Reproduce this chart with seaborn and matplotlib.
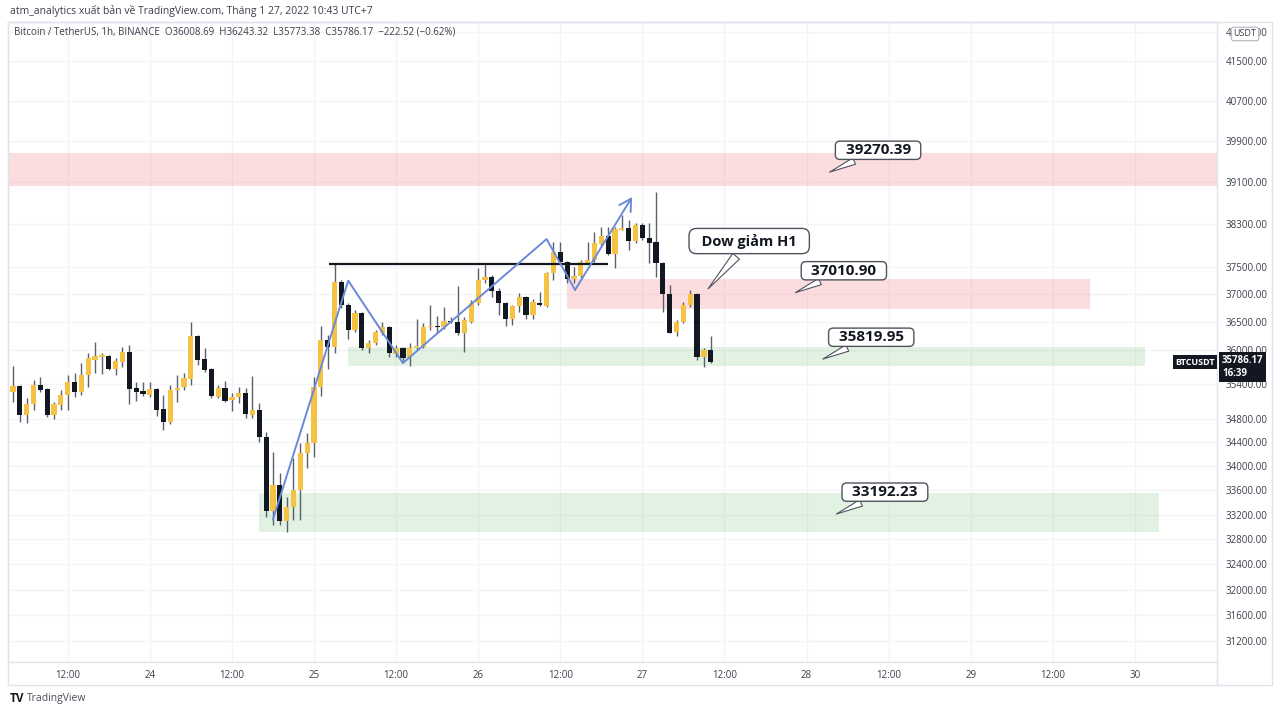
import matplotlib
matplotlib.use("Agg")
import matplotlib.pyplot as plt
import matplotlib.dates as mdates
import matplotlib.transforms as mtransforms
from matplotlib.patches import Rectangle
from matplotlib.lines import Line2D
from matplotlib.ticker import FixedLocator, NullLocator, NullFormatter, FuncFormatter
import numpy as np
import pandas as pd
import seaborn as sns

# BTC/USDT 1h candles (Binance), 23 Jan 04:00 -> 27 Jan 10:00, UTC+7
opens = [35264, 35369, 34868, 35057, 35386, 35316, 34868, 35040, 35213, 35438,
         35264, 35561, 35823, 35876, 35894, 35666, 35788, 35965, 35334, 35282,
         35213, 35316, 34970, 34748, 35299, 35351, 35491, 36248, 35841, 35666,
         35178, 35334, 35126, 35178, 35247, 34868, 34953, 34492, 33260, 33688,
         33097, 33325, 33605, 34221, 34390, 35351, 36177, 36053, 37225, 36806,
         36357, 36662, 36035, 36124, 36304, 36410, 35929, 36035, 35858, 36035,
         36053, 36410, 36429, 36410, 36518, 36500, 36304, 36500, 36843, 37261,
         37316, 37061, 36843, 36554, 36788, 36952, 36626, 36843, 36788, 37390,
         37778, 37593, 37279, 37335, 37575, 37630, 37927, 38076, 37741, 38188,
         38226, 37982, 38283, 38038, 37964, 37575, 37006, 36322, 36500, 36806,
         37006, 35876, 36008.69]
highs = [35718, 35380, 35161, 35473, 35525, 35334, 35091, 35299, 35561, 35596,
         35771, 35947, 36142, 35947, 35912, 35858, 36053, 36089, 35438, 35438,
         35438, 35334, 35213, 35386, 35561, 35596, 36500, 36267, 36035, 35683,
         35386, 35456, 35247, 35351, 35334, 35543, 35074, 34577, 34238, 33887,
         33489, 34137, 34390, 34560, 35525, 36429, 36267, 37575, 37261, 36843,
         36716, 36680, 36177, 36357, 36500, 36429, 36089, 36053, 36124, 36554,
         36482, 36806, 36608, 36770, 36590, 37152, 36590, 36897, 37483, 37556,
         37353, 37115, 36861, 36806, 37024, 36970, 36915, 37043, 37409, 37964,
         37964, 37612, 37501, 37630, 37964, 38151, 38245, 38245, 38245, 38472,
         38377, 38320, 38320, 38320, 38910, 37593, 37170, 36536, 36861, 37079,
         37024, 36035, 36243.32]
lows = [35091, 34748, 34731, 34953, 35264, 34833, 34799, 34953, 34953, 35178,
        35213, 35351, 35596, 35578, 35648, 35561, 35701, 35057, 35109, 35196,
        35178, 34850, 34611, 34714, 35091, 35299, 35386, 35736, 35613, 35161,
        35161, 35091, 34936, 35074, 34816, 34816, 34407, 33162, 33031, 33031,
        32917, 33113, 33113, 33970, 34154, 35196, 35666, 35947, 36752, 36195,
        36322, 36000, 35947, 36089, 36267, 35876, 35876, 35806, 35718, 36000,
        36035, 36357, 36304, 36375, 36482, 36267, 35965, 36482, 36806, 37206,
        36952, 36626, 36429, 36446, 36680, 36554, 36554, 36788, 36770, 37261,
        37575, 37206, 37206, 37298, 37575, 37593, 37908, 37723, 37483, 38188,
        37815, 37945, 38001, 37575, 37316, 36680, 36304, 36248, 36482, 36770,
        35823, 35701, 35773.38]
closes = [35369, 34868, 35057, 35386, 35299, 34868, 35057, 35213, 35438, 35264,
          35561, 35858, 35894, 35912, 35666, 35806, 35965, 35316, 35264, 35230,
          35316, 34953, 34748, 35299, 35334, 35508, 36248, 35823, 35648, 35196,
          35334, 35109, 35178, 35247, 34885, 34953, 34492, 33260, 33688, 33097,
          33325, 33605, 34221, 34390, 35351, 36177, 36053, 37225, 36806, 36357,
          36662, 36035, 36124, 36322, 36410, 35947, 36035, 35858, 36035, 36071,
          36410, 36429, 36410, 36518, 36500, 36304, 36536, 36843, 37261, 37316,
          37061, 36843, 36554, 36788, 36952, 36626, 36861, 36806, 37390, 37778,
          37593, 37279, 37335, 37593, 37630, 37945, 38076, 37741, 38207, 38226,
          37982, 38283, 38038, 37945, 37575, 37006, 36304, 36500, 36806, 37006,
          35876, 36008.69, 35786.17]
first_candle = "2022-01-23 04:00"

# price zones drawn on the chart
zone_starts = ["2022-01-22 00:00", "2022-01-26 13:00", "2022-01-25 05:00", "2022-01-24 16:00"]
zone_ends = ["2022-02-01 00:00", "2022-01-29 17:30", "2022-01-30 01:30", "2022-01-30 03:30"]
zone_lows = [39027, 36740, 35710, 32925]
zone_highs = [39664, 37285, 36050, 33560]
zone_kinds = ["supply", "supply", "demand", "demand"]

# price callouts
level_values = [39270.39, 37010.90, 35819.95, 33192.23]
level_times = ["2022-01-28 03:00", "2022-01-27 22:00", "2022-01-28 02:00", "2022-01-28 04:00"]
note_text = "Dow giảm H1"
note_time = "2022-01-27 09:20"
note_price = 37060

# swing path (blue) and resistance line (black)
wave_times = ["2022-01-24 18:00", "2022-01-25 05:00", "2022-01-25 13:00",
              "2022-01-26 10:00", "2022-01-26 14:10", "2022-01-26 22:30"]
wave_prices = [33120, 37250, 35770, 38020, 37080, 38815]
res_start, res_end, res_level = "2022-01-25 02:10", "2022-01-26 19:00", 37560

price_ticks = [42100, 41500, 40700, 39900, 39100, 38300, 37500, 37000, 36500, 36000,
               35400, 34800, 34400, 34000, 33600, 33200, 32800, 32400, 32000, 31600, 31200]

YELLOW = "#f5c243"
DARK = "#131722"
WICK = "#5d606b"
BLUE = "#6a8ad8"
TEXT = "#131722"
AXIS_TXT = "#3b3f4a"
BORDER = "#e0e3eb"
BOX_EDGE = "#50535e"

sns.set_theme(style="white")
plt.rcParams["font.family"] = ["Open Sans", "DejaVu Sans"]

W, H = 1280, 713
fig = plt.figure(figsize=(12.8, 7.13), dpi=100)
ax = fig.add_axes([8 / W, 1 - 662 / H, (1217 - 8) / W, (662 - 22) / H])

o = np.array(opens, dtype=float)
h = np.array(highs, dtype=float)
l = np.array(lows, dtype=float)
c = np.array(closes, dtype=float)
times = pd.date_range(first_candle, periods=len(c), freq="h")
x = mdates.date2num(times)
hour = 1 / 24

ax.set_yscale("log")

# zones
for s, e, lo, hi, kind in zip(zone_starts, zone_ends, zone_lows, zone_highs, zone_kinds):
    col = "#f23645" if kind == "supply" else "#4caf50"
    al = 0.17 if kind == "supply" else 0.16
    xs = mdates.date2num(pd.to_datetime([s, e]))
    ax.fill_between(xs, [lo, lo], [hi, hi], color=col, alpha=al, lw=0, zorder=1)

# candles
up = c >= o
ax.vlines(x, l, h, color=WICK, lw=1, zorder=3)
body_low = np.minimum(o, c)
body_h = np.maximum(np.abs(c - o), 12)
ax.bar(x, body_h, bottom=body_low, width=0.76 * hour,
       color=np.where(up, YELLOW, DARK), linewidth=0, zorder=4)

# resistance line
ax.hlines(res_level, mdates.date2num(pd.Timestamp(res_start)), mdates.date2num(pd.Timestamp(res_end)),
          color=DARK, lw=1.6, zorder=5)

# swing path
wave = pd.DataFrame({"time": mdates.date2num(pd.to_datetime(wave_times)), "price": wave_prices})
sns.lineplot(data=wave.iloc[:-1], x="time", y="price", sort=False, color=BLUE, lw=1.4, ax=ax, zorder=6)
ax.annotate("", xy=(wave.time.iloc[-1], wave.price.iloc[-1]),
            xytext=(wave.time.iloc[-2], wave.price.iloc[-2]),
            arrowprops=dict(arrowstyle="->,head_length=0.7,head_width=0.4", color=BLUE, lw=1.4,
                            shrinkA=0, shrinkB=0, mutation_scale=12), zorder=6)

# callouts
box = dict(boxstyle="round,pad=0.14,rounding_size=0.3", fc="white", ec=BOX_EDGE, lw=1)
tail = dict(arrowstyle="wedge,tail_width=0.45", fc="white", ec=BOX_EDGE, lw=0.8)
for t, v in zip(level_times, level_values):
    ax.annotate(f"  {v:.2f}  ", xy=(mdates.date2num(pd.Timestamp(t)), v),
                xytext=(51, 23), textcoords="offset pixels", ha="center", va="center",
                fontsize=11, fontweight="bold", color=TEXT, bbox=box, arrowprops=tail, zorder=8)
ax.annotate(f"  {note_text}  ", xy=(mdates.date2num(pd.Timestamp(note_time)), note_price),
            xytext=(43, 50), textcoords="offset pixels", ha="center", va="center",
            fontsize=10.5, fontweight="bold", color=TEXT,
            bbox=dict(boxstyle="round,pad=0.35,rounding_size=0.5", fc="white", ec=BOX_EDGE, lw=1),
            arrowprops=dict(arrowstyle="wedge,tail_width=0.6", fc="white", ec=BOX_EDGE, lw=0.8),
            zorder=8)

# axes limits and ticks
ax.set_xlim(x[0] - 0.73 * hour, x[0] + 176 * hour)
ax.set_ylim(30879, 42304)
ax.set_xlabel("")
ax.set_ylabel("")
ax.yaxis.set_major_locator(FixedLocator(price_ticks))
ax.yaxis.set_minor_locator(NullLocator())
ax.yaxis.set_minor_formatter(NullFormatter())
ax.yaxis.set_major_formatter(FuncFormatter(lambda v, p: f"{v:.2f}"))
ax.yaxis.tick_right()
ax.tick_params(axis="y", length=0, pad=6, labelsize=7, labelcolor=AXIS_TXT)

xt = pd.date_range("2022-01-23 12:00", "2022-01-30 00:00", freq="12h")
ax.set_xticks(mdates.date2num(xt))
ax.set_xticklabels([str(t.day) if t.hour == 0 else "12:00" for t in xt])
ax.tick_params(axis="x", length=0, pad=6, labelsize=7, labelcolor=AXIS_TXT)
ax.grid(True, which="major", color="#f3f4f8", lw=1)
for sp in ax.spines.values():
    sp.set_color(BORDER)
    sp.set_linewidth(1)

# last price tags
trans = mtransforms.blended_transform_factory(ax.transAxes, ax.transData)
ax.text(0.9985, c[-1], "BTCUSDT", transform=trans, ha="right", va="center", fontsize=6.5,
        fontweight="bold", color="white", bbox=dict(boxstyle="square,pad=0.25", fc=DARK, ec="none"),
        zorder=10)
tag_trans = mtransforms.offset_copy(trans, fig=fig, x=5, y=7, units="dots")
ax.text(1.0, c[-1], f"{c[-1]:.2f}\n16:39", transform=tag_trans, ha="left", va="top", fontsize=7,
        fontweight="bold", color="white", linespacing=1.25,
        bbox=dict(boxstyle="square,pad=0.3", fc=DARK, ec="none"), clip_on=False, zorder=10)

# frame of the chart panel
fig.patches.append(Rectangle((8 / W, 1 - 685 / H), (1272 - 8) / W, (685 - 22) / H,
                             transform=fig.transFigure, fill=False, ec=BORDER, lw=1))
fig.lines.append(Line2D([1217 / W, 1217 / W], [1 - 685 / H, 1 - 662 / H],
                        transform=fig.transFigure, color=BORDER, lw=1))

# header / footer texts
fig.text(10 / W, 1 - 11 / H, "atm_analytics xuất bản về TradingView.com, Tháng 1 27, 2022 10:43 UTC+7",
         fontsize=7.5, va="center", color=AXIS_TXT)
chg = c[-1] - c[-2]
pct = chg / c[-2] * 100
title = (f"Bitcoin / TetherUS, 1h, BINANCE  O{o[-1]:.2f}  H{h[-1]:.2f}  L{l[-1]:.2f}  C{c[-1]:.2f}"
         f"  {chg:.2f} ({pct:.2f}%)").replace("-", "\u2212")
fig.text(14 / W, 1 - 32 / H, title, fontsize=7, va="center", color=AXIS_TXT)
fig.text(1245 / W, 1 - 34 / H, "USDT", ha="center", va="center", fontsize=6.5, color=AXIS_TXT,
         bbox=dict(boxstyle="round,pad=0.25", fc="white", ec="#b2b5be", lw=0.8), zorder=10)
fig.text(10 / W, 1 - 698 / H, "TV", fontsize=8.5, fontweight="bold", va="center", color=DARK)
fig.text(27 / W, 1 - 698 / H, "TradingView", fontsize=7.5, va="center", color="#4a4d57")

fig.savefig("out.png", dpi=100)
